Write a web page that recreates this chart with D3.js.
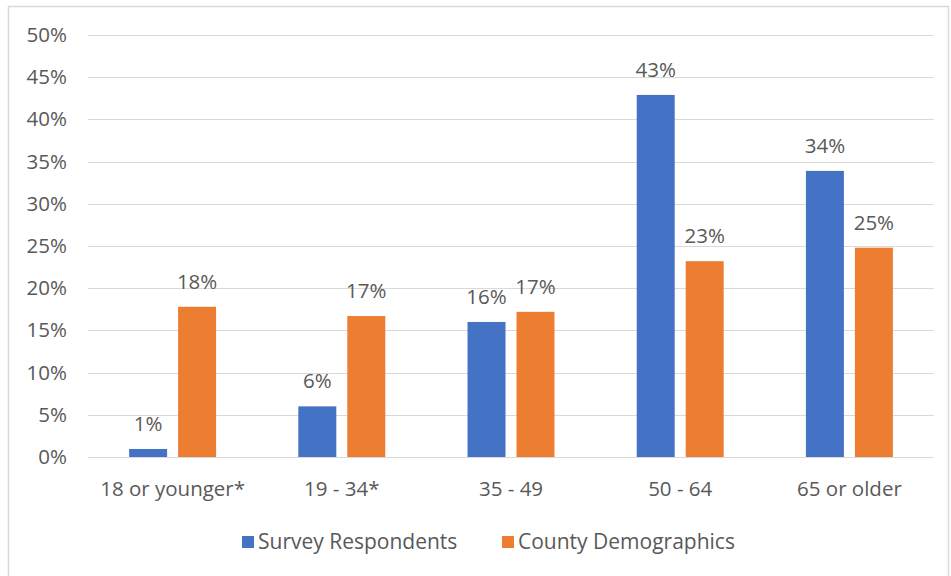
<!DOCTYPE html>
<html>
<head>
<meta charset="utf-8">
<script src="https://cdn.jsdelivr.net/npm/d3@7"></script>
<style>
  html, body { margin: 0; padding: 0; background: #fff; }
  svg { display: block; }
  text { font-family: "Open Sans", "Lato", sans-serif; fill: #595959; }
</style>
</head>
<body>
<svg id="chart" width="951" height="576"></svg>
<script>
// Age groups and shares (fractions)
const categories = ["18 or younger*", "19 - 34*", "35 - 49", "50 - 64", "65 or older"];
const surveyRespondents = [0.0095, 0.060, 0.160, 0.429, 0.339];
const countyDemographics = [0.178, 0.167, 0.172, 0.232, 0.248];
const seriesNames = ["Survey Respondents", "County Demographics"];
const seriesColors = ["#4472C4", "#ED7D31"];
const yTicks = [0, 0.05, 0.10, 0.15, 0.20, 0.25, 0.30, 0.35, 0.40, 0.45, 0.50];

const svg = d3.select("#chart");
const W = 951, H = 576;
const margin = { left: 88, right: 17, top: 35, bottom: 119 };
const plotW = W - margin.left - margin.right;
const plotH = H - margin.top - margin.bottom;
const fontSize = "20.5px";

// Outer chart border
svg.append("rect")
  .attr("x", 8.5).attr("y", 6.5)
  .attr("width", 940).attr("height", 580)
  .attr("fill", "none").attr("stroke", "#d9d9d9").attr("stroke-width", 1.5);

const g = svg.append("g").attr("transform", `translate(${margin.left},${margin.top})`);

const x0 = d3.scaleBand().domain(categories).range([0, plotW]).paddingInner(0.486).paddingOuter(0.243);
const x1 = d3.scaleBand().domain(seriesNames).range([0, x0.bandwidth()]).paddingInner(0.2245);
const y = d3.scaleLinear().domain([0, 0.5]).range([plotH, 0]);

// Gridlines
g.append("g").selectAll("line").data(yTicks).join("line")
  .attr("x1", 0).attr("x2", plotW)
  .attr("y1", d => Math.round(y(d)) + 0.5).attr("y2", d => Math.round(y(d)) + 0.5)
  .attr("stroke", "#d9d9d9").attr("stroke-width", 1.2);

// Y axis labels
const yAxis = d3.axisLeft(y).tickValues(yTicks).tickFormat(d3.format(".0%")).tickSize(0).tickPadding(21);
g.append("g").call(yAxis)
  .call(a => a.select(".domain").remove())
  .selectAll("text").style("font-size", fontSize).attr("fill", "#595959");

// X axis labels
const xAxis = d3.axisBottom(x0).tickSize(0).tickPadding(24);
g.append("g").attr("transform", `translate(0,${plotH})`).call(xAxis)
  .call(a => a.select(".domain").remove())
  .selectAll("text").style("font-size", fontSize).attr("fill", "#595959");

// Strip the axis group's default font so the stylesheet applies
g.selectAll(".tick").each(function () { d3.select(this.parentNode).attr("font-family", null); });

// Bars
const rows = categories.map((c, i) => ({
  cat: c,
  vals: [surveyRespondents[i], countyDemographics[i]]
}));
const fmt = d3.format(".0%");
const groups = g.append("g").selectAll("g").data(rows).join("g")
  .attr("transform", d => `translate(${x0(d.cat)},0)`);

groups.selectAll("rect").data(d => d.vals.map((v, j) => ({ v, j }))).join("rect")
  .attr("x", d => x1(seriesNames[d.j]))
  .attr("width", x1.bandwidth())
  .attr("y", d => y(d.v))
  .attr("height", d => plotH - y(d.v))
  .attr("fill", d => seriesColors[d.j]);

groups.selectAll("text.val").data(d => d.vals.map((v, j) => ({ v, j }))).join("text")
  .attr("class", "val")
  .attr("x", d => x1(seriesNames[d.j]) + x1.bandwidth() / 2)
  .attr("y", d => y(d.v) - 18)
  .attr("text-anchor", "middle")
  .style("font-size", fontSize)
  .text(d => fmt(d.v));

// Legend
const legendY = 542;
const legendItems = [{ x: 242, i: 0 }, { x: 502, i: 1 }];
const leg = svg.append("g").selectAll("g").data(legendItems).join("g")
  .attr("transform", d => `translate(${d.x},${legendY})`);
leg.append("rect").attr("x", 0).attr("y", -6).attr("width", 12).attr("height", 12)
  .attr("fill", d => seriesColors[d.i]);
leg.append("text").attr("x", 16).attr("y", 0).attr("dy", "0.35em")
  .style("font-size", "21px")
  .text(d => seriesNames[d.i]);
</script>
</body>
</html>
